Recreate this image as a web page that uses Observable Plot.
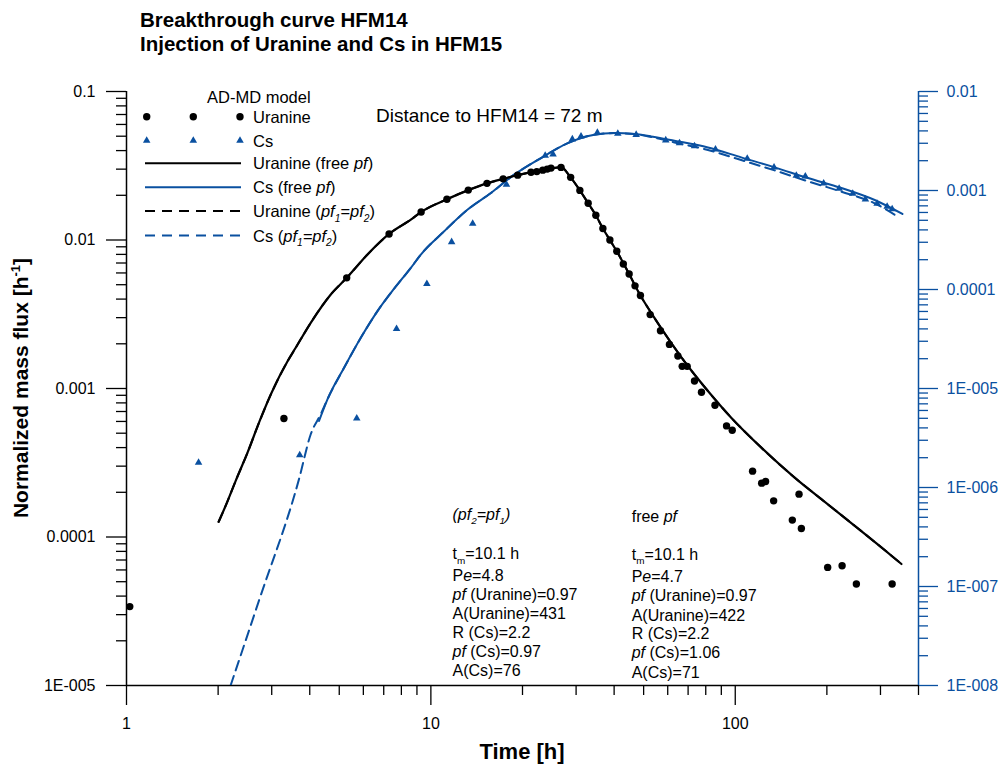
<!DOCTYPE html>
<html>
<head>
<meta charset="utf-8">
<script src="https://cdn.jsdelivr.net/npm/d3@7"></script>
<script src="https://cdn.jsdelivr.net/npm/@observablehq/plot@0.6"></script>
<style>
  body { margin: 0; background: #fff; }
  #chart { position: relative; width: 1001px; height: 767px; }
</style>
</head>
<body>
<div id="chart"></div>
<script>
// ---------- data ----------
const uranineObsT = [1.025, 3.29, 5.29, 7.29, 9.29, 11.29, 13.27, 15.29, 17.28, 19.28, 21.33, 22.28, 23.31, 24.11, 24.81, 26.77, 28.79, 30.87, 32.87, 34.83, 36.74, 38.74, 40.82, 42.88, 44.81, 46.85, 48.81, 52.54, 56.80, 60.78, 64.79, 66.94, 69.52, 73.47, 77.46, 85.78, 93.63, 97.75, 114.0, 122.1, 125.8, 133.7, 154.0, 162.0, 164.9, 201.2, 224.4, 250.0, 327.7];
const uranineObsC = [3.40e-5, 6.28e-4, 5.56e-3, 0.01098, 0.01544, 0.01879, 0.02167, 0.02407, 0.02581, 0.02733, 0.02862, 0.02889, 0.02953, 0.03003, 0.03050, 0.03083, 0.02641, 0.02157, 0.01767, 0.01467, 0.01194, 0.01000, 0.00839, 0.00690, 0.00590, 0.00491, 0.00423, 0.003144, 0.002446, 0.001982, 0.001654, 0.001410, 0.001410, 0.001123, 0.000943, 0.000771, 0.000560, 0.000524, 0.0002776, 0.0002305, 0.0002362, 0.0001752, 0.0001300, 0.0001944, 0.0001141, 6.24e-5, 6.41e-5, 4.83e-5, 4.83e-5];

const csObsT = [1.725, 3.708, 5.708, 7.713, 9.701, 11.70, 13.72, 17.72, 23.75, 25.20, 29.16, 31.14, 35.24, 41.13, 47.25, 59.12, 65.59, 73.47, 86.1, 109.5, 134.1, 158.7, 169.9, 195.2, 219.4, 243.2, 267.7, 292.4, 315.5, 327.7];
const csObsC = [1.786e-6, 2.121e-6, 5.006e-6, 4.009e-5, 1.14e-4, 3.022e-4, 4.643e-4, 1.146e-3, 2.252e-3, 2.315e-3, 3.296e-3, 3.517e-3, 3.834e-3, 3.763e-3, 3.660e-3, 3.220e-3, 3.018e-3, 2.808e-3, 2.601e-3, 2.097e-3, 1.713e-3, 1.412e-3, 1.390e-3, 1.181e-3, 1.044e-3, 9.30e-4, 8.15e-4, 7.37e-4, 6.88e-4, 6.50e-4];

const uranineFreeT = [2.008, 2.150, 2.284, 2.500, 2.739, 2.999, 3.385, 3.596, 4.030, 4.690, 5.29, 6.192, 7.29, 8.594, 9.29, 11.29, 13.27, 15.29, 17.28, 19.28, 21.33, 24.11, 26.77, 28.79, 30.87, 32.87, 34.83, 36.74, 38.74, 40.82, 44.81, 48.81, 52.94, 61.57, 69.89, 81.33, 97.0, 121.8, 156.7, 191.8, 246.9, 302.2, 351.6];
const uranineFreeC = [1.266e-4, 1.75e-4, 2.389e-4, 3.713e-4, 6.05e-4, 9.40e-4, 1.531e-3, 1.880e-3, 2.769e-3, 4.298e-3, 5.56e-3, 7.986e-3, 0.01098, 0.01372, 0.01544, 0.01879, 0.02167, 0.02407, 0.02581, 0.02733, 0.02862, 0.03003, 0.03083, 0.02641, 0.02157, 0.01767, 0.01467, 0.01194, 0.01000, 0.00839, 0.00590, 0.00423, 0.003233, 0.002032, 0.001417, 9.62e-4, 6.36e-4, 4.0e-4, 2.514e-4, 1.799e-4, 1.19e-4, 8.51e-5, 6.58e-5];

// Uranine (pf1=pf2) coincides with the free-pf curve at this resolution
const uranineEqT = [2.008, 2.150, 2.284, 2.500, 2.739, 2.999, 3.385, 3.596, 4.030, 4.690, 5.29, 6.192, 7.29, 8.594, 9.29, 11.29, 13.27, 15.29, 17.28, 19.28, 21.33, 24.11, 26.77, 28.79, 30.87, 32.87, 34.83, 36.74, 38.74, 40.82, 44.81, 48.81, 52.94, 61.57, 69.89, 81.33, 97.0, 121.8, 156.7, 191.8, 246.9, 302.2, 351.6];
const uranineEqC = [1.266e-4, 1.75e-4, 2.389e-4, 3.713e-4, 6.05e-4, 9.40e-4, 1.531e-3, 1.880e-3, 2.769e-3, 4.298e-3, 5.56e-3, 7.986e-3, 0.01098, 0.01372, 0.01544, 0.01879, 0.02167, 0.02407, 0.02581, 0.02733, 0.02862, 0.03003, 0.03083, 0.02641, 0.02157, 0.01767, 0.01467, 0.01194, 0.01000, 0.00839, 0.00590, 0.00423, 0.003233, 0.002032, 0.001417, 9.62e-4, 6.36e-4, 4.0e-4, 2.514e-4, 1.799e-4, 1.19e-4, 8.51e-5, 6.58e-5];

const csFreeT = [4.291, 4.573, 5.186, 5.885, 6.677, 7.574, 8.594, 9.27, 11.06, 13.21, 15.75, 18.79, 23.00, 28.17, 34.45, 40.09, 46.65, 52.94, 63.13, 81.33, 104.6, 134.7, 173.4, 223.2, 287.2, 354.2];
const csFreeC = [4.70e-6, 7.78e-6, 1.621e-5, 3.253e-5, 6.05e-5, 1.02e-4, 1.653e-4, 2.256e-4, 3.876e-4, 6.415e-4, 9.43e-4, 1.445e-3, 2.126e-3, 3.011e-3, 3.660e-3, 3.798e-3, 3.711e-3, 3.517e-3, 3.183e-3, 2.724e-3, 2.160e-3, 1.713e-3, 1.335e-3, 1.059e-3, 8.01e-4, 5.79e-4];

const csEqT = [2.198, 2.724, 3.688, 4.030, 4.346, 4.573, 5.186, 5.885, 6.677, 7.574, 8.594, 9.27, 11.06, 13.21, 15.75, 18.79, 23.00, 28.17, 34.45, 40.09, 46.65, 52.94, 63.13, 81.33, 104.6, 134.7, 173.4, 223.2, 287.2, 338.5];
const csEqC = [1.0e-8, 7.20e-8, 1.215e-6, 3.45e-6, 5.50e-6, 7.78e-6, 1.621e-5, 3.253e-5, 6.05e-5, 1.02e-4, 1.653e-4, 2.256e-4, 3.876e-4, 6.415e-4, 9.43e-4, 1.445e-3, 2.126e-3, 3.011e-3, 3.660e-3, 3.798e-3, 3.711e-3, 3.470e-3, 3.060e-3, 2.570e-3, 2.029e-3, 1.597e-3, 1.237e-3, 9.74e-4, 7.42e-4, 5.55e-4];

// axes
const xDomain = [1, 400];
const xMajorTicks = [1, 10, 100];
const leftDomain = [1e-5, 0.1];
const leftTickValues = [1e-5, 1e-4, 1e-3, 1e-2, 1e-1];
const leftTickLabels = ["1E-005", "0.0001", "0.001", "0.01", "0.1"];
const rightDomain = [1e-8, 1e-2];
const rightTickValues = [1e-8, 1e-7, 1e-6, 1e-5, 1e-4, 1e-3, 1e-2];
const rightTickLabels = ["1E-008", "1E-007", "1E-006", "1E-005", "0.0001", "0.001", "0.01"];

// ---------- helpers ----------
const blue = "#0a50a0";
const font = "'Liberation Sans', Arial, Helvetica, sans-serif";
const L = Math.log10;
// map a right-axis (Cs) value onto the left-axis coordinate system
const toLeft = v => Math.pow(10, L(leftDomain[0]) + (L(v) - L(rightDomain[0])) *
  (L(leftDomain[1]) - L(leftDomain[0])) / (L(rightDomain[1]) - L(rightDomain[0])));

const zip = (T, C, f = d => d) => T.map((t, i) => ({t, c: f(C[i])}));
const uranineObs = zip(uranineObsT, uranineObsC);
const uranineFree = zip(uranineFreeT, uranineFreeC);
const uranineEq = zip(uranineEqT, uranineEqC);
const csObs = zip(csObsT, csObsC, toLeft);
const csFree = zip(csFreeT, csFreeC, toLeft);
const csEq = zip(csEqT, csEqC, toLeft);

function minorTicks(lo, hi) {
  const out = [];
  for (let e = Math.round(L(lo)); e < Math.round(L(hi)); e++)
    for (let m = 2; m <= 9; m++) { const v = m * Math.pow(10, e); if (v > lo && v <= hi) out.push(v); }
  return out;
}
const xMinorTicks = minorTicks(1, 1000).filter(v => v <= xDomain[1]);
const leftMinor = minorTicks(leftDomain[0], leftDomain[1]);
const rightMinor = minorTicks(rightDomain[0], rightDomain[1]).map(toLeft);
const rightTicks = rightTickValues.map((v, i) => ({pos: toLeft(v), label: rightTickLabels[i]}));
const leftTicks = leftTickValues.map((v, i) => ({pos: v, label: leftTickLabels[i]}));

const W = 1001, H = 767;
const mL = 126, mR = 83, mT = 91, mB = 82;

const plot = Plot.plot({
  width: W, height: H,
  marginLeft: mL, marginRight: mR, marginTop: mT, marginBottom: mB,
  x: {type: "log", domain: xDomain},
  y: {type: "log", domain: leftDomain},
  style: {fontFamily: font, fontSize: "16px", background: "white", color: "black"},
  marks: [
    Plot.axisX(xMajorTicks, {anchor: "bottom", tickSize: 20, tickPadding: 12, strokeWidth: 1.3, tickFormat: d => String(d), label: null}),
    Plot.axisX(xMinorTicks, {anchor: "bottom", tickSize: 10, strokeWidth: 1.3, tickFormat: () => "", label: null}),
    Plot.axisY(leftTickValues, {anchor: "left", tickSize: 20, strokeWidth: 1.3, tickFormat: () => "", label: null}),
    Plot.axisY(leftMinor, {anchor: "left", tickSize: 10, strokeWidth: 1.3, tickFormat: () => "", label: null}),
    Plot.text(leftTicks, {y: "pos", text: "label", frameAnchor: "left", dx: -31, textAnchor: "end", fill: "black"}),
    Plot.axisY(rightTicks.map(d => d.pos), {anchor: "right", tickSize: 19, strokeWidth: 1.3, stroke: blue, color: blue, tickFormat: () => "", label: null}),
    Plot.axisY(rightMinor, {anchor: "right", tickSize: 9, strokeWidth: 1.3, stroke: blue, color: blue, tickFormat: () => "", label: null}),
    Plot.text(rightTicks, {y: "pos", text: "label", frameAnchor: "right", dx: 28, textAnchor: "start", fill: blue}),
    Plot.ruleX([xDomain[0]], {stroke: "black", strokeWidth: 1.5}),
    Plot.ruleY([leftDomain[0]], {stroke: "black", strokeWidth: 1.5}),
    Plot.ruleX([xDomain[1]], {stroke: blue, strokeWidth: 1.5}),
    Plot.line(csEq, {x: "t", y: "c", stroke: blue, strokeWidth: 2, strokeDasharray: "10,6", clip: true, curve: "monotone-x"}),
    Plot.line(uranineEq, {x: "t", y: "c", stroke: "black", strokeWidth: 2, strokeDasharray: "10,6", clip: true, curve: "monotone-x"}),
    Plot.line(csFree, {x: "t", y: "c", stroke: blue, strokeWidth: 2, clip: true, curve: "monotone-x"}),
    Plot.line(uranineFree, {x: "t", y: "c", stroke: "black", strokeWidth: 2.2, clip: true, curve: "monotone-x"}),
    Plot.dot(csObs, {x: "t", y: "c", symbol: "triangle", r: 2.8, fill: blue, stroke: "none"}),
    Plot.dot(uranineObs, {x: "t", y: "c", r: 3.7, fill: "black", stroke: "none"})
  ]
});
document.getElementById("chart").appendChild(plot);

// ---------- decorations (titles, labels, legend, notes) ----------
const svg = d3.select(plot);
const g = svg.append("g").attr("font-family", font).attr("fill", "black")
  .attr("text-anchor", "start").style("text-anchor", "start");

function rich(x, y, parts, size, attrs = {}) {
  const t = g.append("text").attr("x", x).attr("y", y).attr("font-size", size)
    .style("text-anchor", attrs["text-anchor"] || "start");
  for (const [k, v] of Object.entries(attrs)) t.attr(k, v);
  let shift = 0;
  for (const p of parts) {
    const [s, st] = typeof p === "string" ? [p, ""] : p;
    const ts = t.append("tspan").text(s);
    let target = 0;
    if (st.includes("sub")) target = size * 0.28;
    if (st.includes("sup")) target = -size * 0.4;
    if (target !== shift) { ts.attr("dy", target - shift); shift = target; }
    if (st.includes("sub") || st.includes("sup")) ts.attr("font-size", size * 0.62);
    if (st.includes("i")) ts.attr("font-style", "italic");
  }
  return t;
}

// titles
rich(140, 27, ["Breakthrough curve HFM14"], 20.5, {"font-weight": "bold"});
rich(140, 50.5, ["Injection of Uranine and Cs in HFM15"], 20.5, {"font-weight": "bold"});

// axis titles
rich((mL + W - mR) / 2, 759, ["Time [h]"], 22, {"font-weight": "bold", "text-anchor": "middle"});
rich(0, 0, ["Normalized mass flux [h", ["-1", "sup"], "]"], 21,
  {"font-weight": "bold", "text-anchor": "middle", "transform": `translate(28,${(mT + H - mB) / 2}) rotate(-90)`});

// distance note
rich(376, 121.5, ["Distance to HFM14 = 72 m"], 19);

// legend
const lgX0 = 145, lgX1 = 241, lgText = 253;
rich(207, 102.5, ["AD-MD model"], 16.5);
const sym = [146.7, 193.3, 240];
for (const x of sym) {
  g.append("circle").attr("cx", x).attr("cy", 116.7).attr("r", 3.7).attr("fill", "black");
  g.append("path").attr("d", d3.symbol(d3.symbolTriangle, 2.8 * 2.8 * Math.PI)())
    .attr("transform", `translate(${x},140.5)`).attr("fill", blue);
}
rich(lgText, 123, ["Uranine"], 16.5);
rich(lgText, 146.5, ["Cs"], 16.5);
const rows = [
  {y: 163.3, stroke: "black", dash: null, parts: ["Uranine (free ", ["pf", "i"], ")"]},
  {y: 187.3, stroke: blue, dash: null, parts: ["Cs (free ", ["pf", "i"], ")"]},
  {y: 211, stroke: "black", dash: "10,7", parts: ["Uranine (", ["pf", "i"], ["1", "isub"], ["=", "i"], ["pf", "i"], ["2", "isub"], ")"]},
  {y: 235.5, stroke: blue, dash: "10,7", parts: ["Cs (", ["pf", "i"], ["1", "isub"], ["=", "i"], ["pf", "i"], ["2", "isub"], ")"]}
];
for (const r of rows) {
  const ln = g.append("line").attr("x1", lgX0).attr("x2", lgX1).attr("y1", r.y).attr("y2", r.y)
    .attr("stroke", r.stroke).attr("stroke-width", 2);
  if (r.dash) ln.attr("stroke-dasharray", r.dash);
  rich(lgText, r.y + 6, r.parts, 16.5);
}

// parameter notes
const leftCol = [
  [519.5, [["(", "i"], ["pf", "i"], ["2", "isub"], ["=", "i"], ["pf", "i"], ["1", "isub"], [")", "i"]]],
  [559.3, ["t", ["m", "sub"], "=10.1 h"]],
  [581, ["P", ["e", "i"], "=4.8"]],
  [600, [["pf", "i"], " (Uranine)=0.97"]],
  [619.3, ["A(Uranine)=431"]],
  [638.3, ["R (Cs)=2.2"]],
  [656.7, [["pf", "i"], " (Cs)=0.97"]],
  [676, ["A(Cs)=76"]]
];
const rightCol = [
  [521.5, ["free ", ["pf", "i"]]],
  [559.5, ["t", ["m", "sub"], "=10.1 h"]],
  [581.5, ["P", ["e", "i"], "=4.7"]],
  [601, [["pf", "i"], " (Uranine)=0.97"]],
  [620.5, ["A(Uranine)=422"]],
  [639, ["R (Cs)=2.2"]],
  [658, [["pf", "i"], " (Cs)=1.06"]],
  [677.5, ["A(Cs)=71"]]
];
for (const [y, parts] of leftCol) rich(452.5, y, parts, 16);
for (const [y, parts] of rightCol) rich(631.7, y, parts, 16);
</script>
</body>
</html>
